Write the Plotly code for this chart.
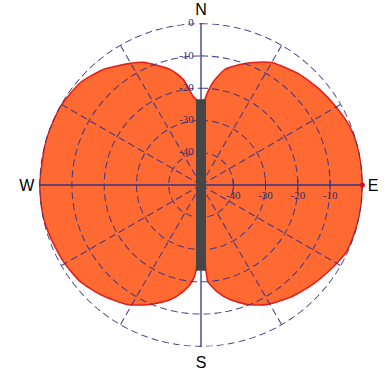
import numpy as np
import plotly.graph_objects as go

# Radiation pattern (dB, relative to max), bearing clockwise from north
pattern_theta = [0, 2.7, 6.6, 11.7, 17.9, 22.9, 30.0, 41.7, 51.1, 60.2, 68.4, 74.6,
                 81.9, 90, 97.1, 105.4, 114.6, 122.2, 131.8, 141.8, 151.2, 158.6,
                 165.8, 171.5, 175.9, 176.7, 180, 183.3, 185.3, 189.5, 195.1, 203.0,
                 211.7, 222.6, 231.3, 240.8, 250.7, 259.3, 270, 286.4, 299.3, 310.4,
                 319.8, 329.8, 334.8, 345.0, 350.4, 354.9, 356.7, 360]
pattern_db = [-45, -23.4, -18.0, -13.4, -10.8, -8.8, -6.2, -4.1, -2.8, -1.6, -0.5, -0.1,
              0, 0, 0, -0.1, -0.4, -1.9, -3.7, -5.6, -7.7, -10.2,
              -13.4, -16.6, -20.0, -23.4, -45, -23.4, -19.9, -16.5, -13.2, -9.8,
              -6.5, -3.9, -2.1, -1.2, -0.6, -0.1, 0, 0, -0.1, -1.0,
              -3.1, -6.4, -8.0, -12.9, -16.8, -22.4, -23.4, -45]

ring_db = [-40, -30, -20, -10, 0]
ring_labels = ["-40", "-30", "-20", "-10", "0"]
spoke_angles = [30, 60, 120, 150, 210, 240, 300, 330]
compass_vals = [0, 90, 180, 270]
compass_text = ["N", "E", "S", "W"]
element_end_db = -23.4

# small headroom above 0 dB so the outer dashed ring is not clipped
R_MIN, R_MAX, R_TOP = -50, 0, 0.2
GRID = "rgba(54,54,135,0.9)"
AXIS = "#34347f"
DASH = "7px,4px"
LABEL_FONT = dict(family="Liberation Serif", size=11, color="#2e2e66")

fig = go.Figure()

# filled pattern
fig.add_trace(go.Scatterpolar(
    r=pattern_db, theta=pattern_theta, mode="lines", fill="toself",
    fillcolor="#FF6A33", line=dict(color="#E3201B", width=1.6, shape="spline", smoothing=0.6),
    hoverinfo="skip"))

# dashed rings drawn over the fill
circ = np.linspace(0, 360, 181)
for rv in ring_db:
    fig.add_trace(go.Scatterpolar(
        r=[rv] * len(circ), theta=circ, mode="lines",
        line=dict(color=GRID, width=1.1, dash=DASH), hoverinfo="skip"))

# dashed spokes
for a in spoke_angles:
    fig.add_trace(go.Scatterpolar(
        r=[R_MIN, R_MAX], theta=[a, a], mode="lines",
        line=dict(color=GRID, width=1.1, dash=DASH), hoverinfo="skip"))

# solid N-S and E-W axes
fig.add_trace(go.Scatterpolar(r=[R_MAX, R_MIN, R_MAX], theta=[0, 0, 180], mode="lines",
                              line=dict(color=AXIS, width=1.3), hoverinfo="skip"))
fig.add_trace(go.Scatterpolar(r=[R_MAX, R_MIN, R_MAX], theta=[90, 90, 270], mode="lines",
                              line=dict(color=AXIS, width=1.3), hoverinfo="skip"))

# antenna element
fig.add_trace(go.Scatterpolar(
    r=[element_end_db, R_MIN, element_end_db], theta=[0, 0, 180], mode="lines",
    line=dict(color="#464646", width=10), hoverinfo="skip"))

# tick crossings on east axis
fig.add_trace(go.Scatterpolar(
    r=ring_db[:-1], theta=[90] * 4, mode="markers",
    marker=dict(symbol="line-ns", size=8, line=dict(color=AXIS, width=1)),
    hoverinfo="skip"))

# ring labels along north axis (invisible markers set the gap to the axis)
fig.add_trace(go.Scatterpolar(
    r=ring_db, theta=[0] * len(ring_db), mode="markers+text", text=ring_labels,
    textposition="middle left", cliponaxis=False,
    marker=dict(size=10, opacity=0),
    textfont=LABEL_FONT, hoverinfo="skip"))
# ring labels along east axis
fig.add_trace(go.Scatterpolar(
    r=ring_db[:-1], theta=[90] * 4, mode="markers+text", text=ring_labels[:-1],
    textposition="bottom center",
    marker=dict(size=8, opacity=0),
    textfont=LABEL_FONT, hoverinfo="skip"))

# peak marker
fig.add_trace(go.Scatterpolar(r=[0], theta=[90], mode="markers", cliponaxis=False,
                              marker=dict(color="#D0101A", size=5), hoverinfo="skip"))

fig.update_layout(
    width=388, height=370,
    margin=dict(l=39, r=25, t=23, b=23),
    paper_bgcolor="white",
    showlegend=False,
    polar=dict(
        bgcolor="white",
        domain=dict(x=[0, 1], y=[0, 1]),
        radialaxis=dict(range=[R_MIN, R_TOP], showgrid=False, showline=False,
                        showticklabels=False, ticks="", angle=90),
        angularaxis=dict(rotation=90, direction="clockwise",
                         tickvals=compass_vals, ticktext=compass_text,
                         showgrid=False, showline=False,
                         ticks="outside", ticklen=1, tickcolor="rgba(0,0,0,0)",
                         tickfont=dict(family="Liberation Sans", size=16, color="black")),
    ),
)

fig.write_html("out.html")
